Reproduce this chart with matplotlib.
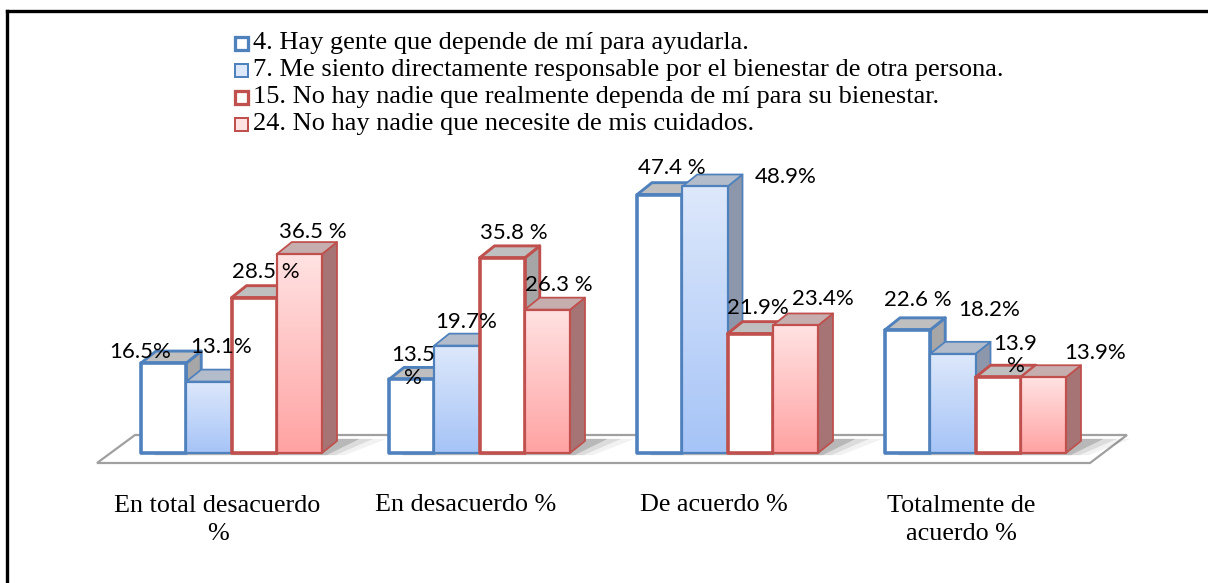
import numpy as np
import matplotlib
matplotlib.use("Agg")
import matplotlib.pyplot as plt
from matplotlib.patches import Polygon, Rectangle
from matplotlib.lines import Line2D

# ---------------- data ----------------
categories = ["En total desacuerdo\n%", "En desacuerdo %", "De acuerdo %", "Totalmente de\nacuerdo %"]
series_names = [
    "4. Hay gente que depende de mí para ayudarla.",
    "7. Me siento directamente responsable por el bienestar de otra persona.",
    "15. No hay nadie que realmente dependa de mí para su bienestar.",
    "24. No hay nadie que necesite de mis cuidados.",
]
s4 = [16.5, 13.5, 47.4, 22.6]
s7 = [13.1, 19.7, 48.9, 18.2]
s15 = [28.5, 35.8, 21.9, 13.9]
s24 = [36.5, 26.3, 23.4, 13.9]
series_values = [s4, s7, s15, s24]
# separator between number and % sign, as in the reference labels
label_seps = [
    ["", "\n", " ", " "],
    ["", "", "", ""],
    [" ", " ", "", "\n"],
    [" ", " ", "", ""],
]

# ---------------- style / layout ----------------
W, H, DPI = 1208, 583, 100
BAR_PX = 45.25
PCT_PX = 5.45
X0_PX, BASE_PX = 141, 453
GROUP = 248 / BAR_PX
DX = 15 / BAR_PX
DY = 12 / PCT_PX

BLUE, RED = "#4F81BD", "#C0504D"
edge_cols = [BLUE, BLUE, RED, RED]
edge_lw = [2.6, 1.6, 2.6, 1.6]
grad = [None, ("#DDE8FB", "#A6C4F7"), None, ("#FFE2E2", "#FFA3A3")]
side_cols = ["#A6A6A6", "#8C97AB", "#A6A6A6", "#A67474"]
top_cols = ["#BFBFBF", "#B3BCCB", "#BFBFBF", "#C7AEAE"]

# label offsets in pixels relative to (front-left, front-top) of each bar
lab_off = [
    [(-1, 11), (24, 13), (35, 27), (33, 30)],
    [(35, 35), (32, 24), (103, 9), (59, 44)],
    [(34, 26), (34, 25), (30, 26), (40, 22)],
    [(36, 22), (34, 25), (50, 26), (74, 24)],
]

fig = plt.figure(figsize=(W / DPI, H / DPI), dpi=DPI)
ax = fig.add_axes([0, 0, 1, 1])
ax.set_xlim(-X0_PX / BAR_PX, (W - X0_PX) / BAR_PX)
ax.set_ylim(-(H - BASE_PX) / PCT_PX, BASE_PX / PCT_PX)
ax.axis("off")

n_groups = len(categories)
n_series = len(series_values)

# floor
fl_front = -10 / PCT_PX
fl_back = 18 / PCT_PX
x_first = 0
x_last = (n_groups - 1) * GROUP + n_series
floor = Polygon([(x_first - 44 / BAR_PX, fl_front), (x_last + 24 / BAR_PX, fl_front),
                 (x_last + 61 / BAR_PX, fl_back), (x_first - 6 / BAR_PX, fl_back)],
                closed=True, facecolor="white", edgecolor="#A0A0A0", lw=1.6, zorder=1)
ax.add_patch(floor)

# soft shadows behind each group
for g in range(n_groups):
    gx = g * GROUP
    for k, a in enumerate([0.16, 0.09, 0.05]):
        sh = Polygon([(gx + 0.3, -0.4), (gx + n_series + 0.1 + 0.2 * k, -0.4),
                      (gx + n_series + DX + 0.5 + 0.3 * k, DY + 0.4), (gx + 0.6, DY + 0.4)],
                     closed=True, facecolor="black", alpha=a, lw=0, zorder=1.5)
        ax.add_patch(sh)

z = 2
for g in range(n_groups):
    for s in range(n_series):
        v = series_values[s][g]
        x = g * GROUP + s
        side = Polygon([(x + 1, 0), (x + 1 + DX, DY), (x + 1 + DX, v + DY), (x + 1, v)],
                       closed=True, facecolor=side_cols[s], edgecolor=edge_cols[s],
                       lw=edge_lw[s] * 0.8, zorder=z, joinstyle="round")
        ax.add_patch(side)
        top = Polygon([(x, v), (x + DX, v + DY), (x + 1 + DX, v + DY), (x + 1, v)],
                      closed=True, facecolor=top_cols[s], edgecolor=edge_cols[s],
                      lw=edge_lw[s] * 0.8, zorder=z + 0.1, joinstyle="round")
        ax.add_patch(top)
        front = Rectangle((x, 0), 1, v, facecolor="white", edgecolor="none", zorder=z + 0.2)
        ax.add_patch(front)
        if grad[s] is not None:
            c1 = np.array(matplotlib.colors.to_rgb(grad[s][0]))
            c2 = np.array(matplotlib.colors.to_rgb(grad[s][1]))
            t = np.linspace(0, 1, 64)[:, None]
            img = (c1 * (1 - t) + c2 * t)[:, None, :]
            im = ax.imshow(img, extent=(x, x + 1, 0, v), origin="upper", aspect="auto",
                           zorder=z + 0.25, interpolation="bilinear")
            im.set_clip_path(front)
        frame = Rectangle((x, 0), 1, v, facecolor="none", edgecolor=edge_cols[s],
                          lw=edge_lw[s], zorder=z + 0.3, joinstyle="round")
        ax.add_patch(frame)
        z += 1

# data labels
for g in range(n_groups):
    for s in range(n_series):
        v = series_values[s][g]
        x = g * GROUP + s
        dxp, dyp = lab_off[s][g]
        txt = f"{v}{label_seps[s][g]}%"
        ax.annotate(txt, xy=(x, v), xytext=(dxp, dyp), textcoords="offset pixels",
                    ha="center", va="center", fontsize=16, family=["Lato", "DejaVu Sans"],
                    color="#000000", zorder=100, linespacing=1.15)

# category labels
for g, cat in enumerate(categories):
    cx = g * GROUP + n_series / 2
    yoff = 520 if "\n" in cat else 505
    ax.annotate(cat, xy=(cx, 0), xytext=(-14, -(yoff - BASE_PX)), textcoords="offset pixels",
                ha="center", va="center", fontsize=18.8, family="Liberation Serif",
                linespacing=1.3, zorder=100)

# legend (manual)
leg_x = 235 / W
leg_text_x = 253 / W
row_y = [43, 70, 97, 124]
for s in range(n_series):
    yy = 1 - row_y[s] / H
    sq = Rectangle((leg_x, yy - 7 / H), 13 / W, 13 / H, transform=fig.transFigure,
                   facecolor="white" if grad[s] is None else grad[s][0],
                   edgecolor=edge_cols[s], lw=edge_lw[s] * 0.9, zorder=200)
    fig.add_artist(sq)
    fig.text(leg_text_x, yy, series_names[s], ha="left", va="center", fontsize=19,
             family="Liberation Serif")

# chart border (top and left)
fig.add_artist(Line2D([7 / W, 1], [1 - 11 / H, 1 - 11 / H], transform=fig.transFigure,
                      color="black", lw=2.4))
fig.add_artist(Line2D([7 / W, 7 / W], [0, 1 - 11 / H], transform=fig.transFigure,
                      color="black", lw=2.4))

fig.savefig("out.png", dpi=DPI)
